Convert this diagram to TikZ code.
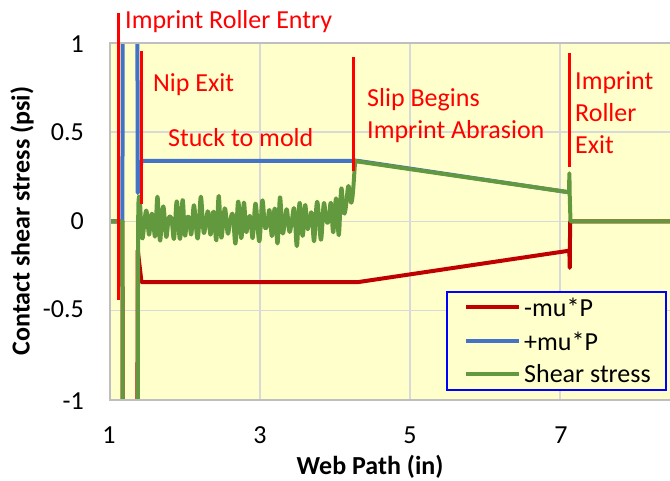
\documentclass[tikz,border=0pt]{standalone}
\usepackage{fontspec}
\setmainfont{Carlito}
\usepackage{xcolor}
\usepackage{tikz}
\definecolor{plotyellow}{RGB}{255, 255, 204}
\definecolor{gridgray}{RGB}{217, 217, 217}
\definecolor{axisgray}{RGB}{191, 191, 191}
\definecolor{mured}{RGB}{192, 0, 0}
\definecolor{mublue}{RGB}{68, 114, 196}
\definecolor{sheargreen}{RGB}{99, 153, 62}
\definecolor{notered}{RGB}{255, 0, 0}
\definecolor{legendblue}{RGB}{0, 0, 255}

\begin{document}
\begin{tikzpicture}[x=1pt, y=1pt,
    lbl/.style={font=\fontsize{26}{31}\selectfont, inner sep=0pt},
    note/.style={lbl, notered, anchor=base west},
    noteline/.style={notered, line width=3pt},
    gridline/.style={gridgray, line width=1.5pt},
    redcurve/.style={mured, line width=4pt, line join=round},
    bluecurve/.style={mublue, line width=4pt, line join=round},
    greencurve/.style={sheargreen, line width=4pt, line join=round}]
  \useasboundingbox (0,0) rectangle (670,480);

  % Plot area
  \fill[plotyellow] (110,80) rectangle (672,437);

  \begin{scope}[x=75pt, y=178.5pt, shift={(35pt,258.5pt)}]
    % Grid
    \foreach \gx in {3,5,7}
      \draw[gridline] (\gx,-1) -- (\gx,1);
    \foreach \gy in {-0.5,0,0.5}
      \draw[gridline] (1,\gy) -- (8.5,\gy);

    \begin{scope}
      \clip (1,-1) rectangle (8.5,1);
      % -mu*P
      \draw[redcurve] (1,0) -- (1.165,0) -- (1.17,-1.1);
      \draw[redcurve] (1.365,-1.1) -- (1.37,-0.16) -- (1.42,-0.34) -- (4.3,-0.34)
        -- (7.1,-0.165) -- (7.125,-0.165) -- (7.13,-0.26) -- (7.135,0) -- (8.5,0);
      % +mu*P
      \draw[bluecurve] (1,0) -- (1.165,0) -- (1.17,1.1);
      \draw[bluecurve] (1.365,1.1) -- (1.37,0.16) -- (1.42,0.34) -- (4.3,0.34)
        -- (7.1,0.165);
      % Shear stress
      \draw[greencurve] (1,0) -- (1.165,0) -- (1.17,-1.1);
      \draw[greencurve] (1.37,-1.1) -- (1.375,0)
        -- plot[domain=1.38:4.28, samples=700]
           (\x, {0.0 + 0.25*exp((\x-4.28)/0.15)
                 + (0.085 + 0.035*sin(\x*1358) + 0.025*sin((\x-1.37)*3100))
                   * sin((\x-1.37)*4390 + 40*sin(\x*900))})
        -- (4.32,0.335) -- (7.1,0.165) -- (7.12,0.165) -- (7.125,0.27)
        -- (7.13,0.14) -- (7.14,0) -- (8.5,0);
    \end{scope}
  \end{scope}

  % Plot border
  \draw[axisgray, line width=2pt] (672,437) -- (110,437) -- (110,80) -- (672,80);

  % Axis ticks
  \node[lbl, anchor=east] (y1) at (84,436) {1};
  \node[lbl, anchor=east] (y05) at (84,347.5) {0.5};
  \node[lbl, anchor=east] (y0) at (84,259) {0};
  \node[lbl, anchor=east] (ym05) at (84,170.5) {-0.5};
  \node[lbl, anchor=east] (ym1) at (84,79) {-1};
  \node[lbl] (x1) at (109,45) {1};
  \node[lbl] (x3) at (260,45) {3};
  \node[lbl] (x5) at (410,45) {5};
  \node[lbl] (x7) at (561,45) {7};

  % Axis titles
  \node[lbl, font=\fontsize{26}{31}\selectfont\bfseries, rotate=90] (ytitle) at (22,259) {Contact shear stress (psi)};
  \node[lbl, font=\fontsize{26}{31}\selectfont\bfseries] (xtitle) at (370,13) {Web Path (in)};

  % Event markers
  \draw[noteline] (118,467) -- (118,180);
  \draw[noteline] (141,429) -- (141,276);
  \draw[noteline] (353,423) -- (353,309);
  \draw[noteline] (569,427) -- (569,313);
  \node[note] (entry) at (125,451) {Imprint Roller Entry};
  \node[note] (nip) at (153,388) {Nip Exit};
  \node[note] (stuck) at (168,333) {Stuck to mold};
  \node[note] (slip) at (367,373) {Slip Begins};
  \node[note] (abrasion) at (367,341) {Imprint Abrasion};
  \node[note] (exit1) at (575,390) {Imprint};
  \node[note] (exit2) at (575,358) {Roller};
  \node[note] (exit3) at (575,326) {Exit};

  % Legend
  \draw[legendblue, line width=1.5pt, fill=plotyellow] (447,90) rectangle (666,188);
  \draw[redcurve] (466,173) -- (519,173);
  \draw[bluecurve] (466,139) -- (519,139);
  \draw[greencurve] (466,106) -- (519,106);
  \node[lbl, anchor=west] (legred) at (524,173) {-mu*P};
  \node[lbl, anchor=west] (legblue) at (524,139) {+mu*P};
  \node[lbl, anchor=west] (leggreen) at (524,106) {Shear stress};
\end{tikzpicture}
\end{document}
